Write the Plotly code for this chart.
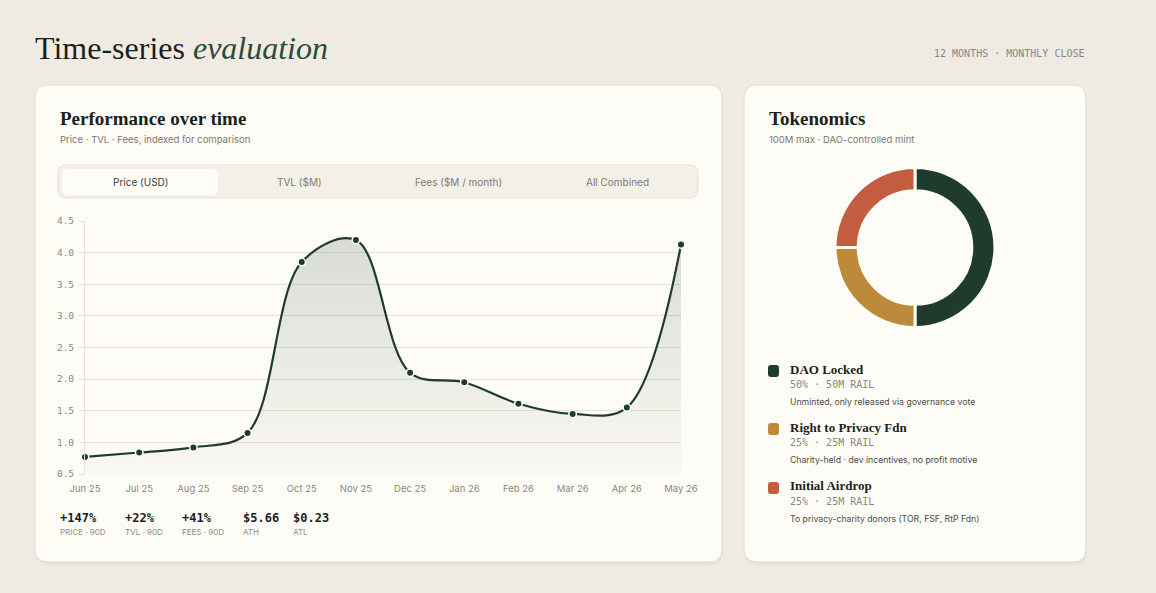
import plotly.graph_objects as go

# ---------------- data ----------------
months = ["Jun 25", "Jul 25", "Aug 25", "Sep 25", "Oct 25", "Nov 25",
          "Dec 25", "Jan 26", "Feb 26", "Mar 26", "Apr 26", "May 26"]
price = [0.77, 0.84, 0.92, 1.15, 3.85, 4.20, 2.10, 1.95, 1.61, 1.45, 1.55, 4.13]

tabs = ["Price (USD)", "TVL ($M)", "Fees ($M / month)", "All Combined"]

stat_values = ["+147%", "+22%", "+41%", "$5.66", "$0.23"]
stat_labels = ["PRICE · 90D", "TVL · 90D", "FEES · 90D", "ATH", "ATL"]

alloc_names = ["DAO Locked", "Right to Privacy Fdn", "Initial Airdrop"]
alloc_values = [50, 25, 25]
alloc_sub = ["50% · 50M RAIL", "25% · 25M RAIL", "25% · 25M RAIL"]
alloc_desc = ["Unminted, only released via governance vote",
              "Charity-held · dev incentives, no profit motive",
              "To privacy-charity donors (TOR, FSF, RtP Fdn)"]
alloc_colors = ["#1f3b2e", "#bd8a3b", "#c45c3f"]

# ---------------- helpers ----------------
W, H = 1156, 593
def fx(x): return x / W
def fy(y): return 1 - y / H

def rrect(x0, y0, x1, y1, r):
    pts = [
        ("M", x0 + r, y0), ("L", x1 - r, y0), ("Q", x1, y0, x1, y0 + r),
        ("L", x1, y1 - r), ("Q", x1, y1, x1 - r, y1), ("L", x0 + r, y1),
        ("Q", x0, y1, x0, y1 - r), ("L", x0, y0 + r), ("Q", x0, y0, x0 + r, y0),
    ]
    s = ""
    for p in pts:
        if p[0] == "Q":
            s += f"Q {fx(p[1]):.5f},{fy(p[2]):.5f} {fx(p[3]):.5f},{fy(p[4]):.5f} "
        else:
            s += f"{p[0]} {fx(p[1]):.5f},{fy(p[2]):.5f} "
    return s + "Z"

SERIF = "Liberation Serif"
SANS = "Inter"
MONO = "DejaVu Sans Mono"
CARD = "#fefcf6"
INK = "#1c1f1c"

shapes = []
def card(x0, y0, x1, y1, r=13):
    shapes.append(dict(type="path", path=rrect(x0 + 1, y0 + 3, x1 + 1, y1 + 3, r),
                       xref="paper", yref="paper", fillcolor="rgba(120,105,80,0.06)",
                       line=dict(width=0), layer="below"))
    shapes.append(dict(type="path", path=rrect(x0, y0, x1, y1, r),
                       xref="paper", yref="paper", fillcolor=CARD,
                       line=dict(color="#e2dccd", width=1), layer="below"))

card(35, 85, 722, 562)
card(744, 85, 1086, 562)

# tab bar
shapes.append(dict(type="path", path=rrect(58, 165, 698, 198, 8), xref="paper", yref="paper",
                   fillcolor="#f3f0e8", line=dict(color="#e6e1d4", width=1), layer="below"))
shapes.append(dict(type="path", path=rrect(62, 169, 218, 195, 6), xref="paper", yref="paper",
                   fillcolor="#fefdf9", line=dict(width=0), layer="below"))

annotations = []
def text(x, y, s, size, color, family, anchor="left", weight=None):
    f = dict(size=size, color=color, family=family)
    if weight:
        f["weight"] = weight
    annotations.append(dict(x=fx(x), y=fy(y), xref="paper", yref="paper", text=s,
                            showarrow=False, xanchor=anchor, yanchor="middle",
                            font=f))

# headings
text(33, 48, "Time-series <i><span style='color:#2d4a37'>evaluation</span></i>",
     32, INK, SERIF)
text(1087, 54, "12 MONTHS · MONTHLY CLOSE", 10, "#8a877e", MONO, anchor="right")

text(58, 118, "Performance over time", 19, INK, SERIF, weight="bold")
text(58, 139, "Price · TVL · Fees, indexed for comparison", 9.5, "#7b7a72", SANS)

tab_centers = [140, 299, 458, 617]
for i, (t, cx) in enumerate(zip(tabs, tab_centers)):
    text(cx, 182, t, 10, "#3a3a36" if i == 0 else "#7d7b74", SANS, anchor="center")

stat_x = [58, 123, 180, 241, 291]
for v, l, x in zip(stat_values, stat_labels, stat_x):
    text(x, 518, v, 12, INK, MONO, weight="bold")
    text(x, 532, l, 8, "#8f8d85", SANS)

text(767, 118, "Tokenomics", 19, INK, SERIF, weight="bold")
text(767, 139, "100M max · DAO-controlled mint", 9.5, "#7b7a72", SANS)

legend_y = [369, 427, 486]
for name, sub, desc, col, ly in zip(alloc_names, alloc_sub, alloc_desc, alloc_colors, legend_y):
    shapes.append(dict(type="path", path=rrect(768, ly - 4, 779, ly + 8, 3), xref="paper",
                       yref="paper", fillcolor=col, line=dict(width=0), layer="above"))
    text(788, ly, name, 13, INK, SERIF, weight="bold")
    text(788, ly + 15.5, sub, 10, "#8a877e", MONO)
    text(788, ly + 33, desc, 8.7, "#4b4b46", SANS)

# ---------------- traces ----------------
fig = go.Figure()
fig.add_trace(go.Scatter(
    x=months, y=price, mode="lines+markers",
    line=dict(color="#1f3b2e", width=2.2, shape="spline", smoothing=1.0),
    marker=dict(size=7.5, color="#1f3b2e", line=dict(color="#ffffff", width=1.5)),
    fill="tozeroy",
    fillgradient=dict(type="vertical", start=0.5, stop=4.3,
                      colorscale=[[0, "rgba(31,59,46,0.02)"], [1, "rgba(31,59,46,0.17)"]]),
    cliponaxis=False, hoverinfo="x+y", showlegend=False,
))

fig.add_trace(go.Pie(
    labels=alloc_names, values=alloc_values, hole=0.71, sort=False,
    direction="clockwise", rotation=0, textinfo="none",
    marker=dict(colors=alloc_colors, line=dict(color=CARD, width=3)),
    domain=dict(x=[fx(835), fx(995)], y=[fy(327.5), fy(167.5)]),
    showlegend=False, hoverinfo="label+percent",
))

fig.update_layout(
    width=W, height=H, margin=dict(l=0, r=0, t=0, b=0, pad=0, autoexpand=False),
    showlegend=False,
    paper_bgcolor="#efebe3", plot_bgcolor="rgba(0,0,0,0)",
    shapes=shapes, annotations=annotations,
    xaxis=dict(domain=[fx(85), fx(681)], type="category", range=[0, 11],
               showgrid=False, zeroline=False, showline=False, automargin=False,
               tickfont=dict(family=SANS, size=9.5, color="#8a887f"),
               ticks="", ticklabelstandoff=7, fixedrange=True),
    yaxis=dict(domain=[fy(474), fy(221)], range=[0.5, 4.5], dtick=0.5, tick0=0.5,
               tickformat=".1f", showgrid=True, gridcolor="#e7e3d7", gridwidth=1,
               zeroline=False, showline=True, linecolor="#e7e3d7", linewidth=1,
               ticks="outside", ticklen=5, tickcolor="#e7e3d7", automargin=False,
               tickfont=dict(family=MONO, size=9.5, color="#8a887f"),
               ticklabelstandoff=3, fixedrange=True),
)

fig.write_html("out.html", config={"displayModeBar": False},
               post_script="document.body.style.margin='0';document.body.style.background='#efebe3';")
